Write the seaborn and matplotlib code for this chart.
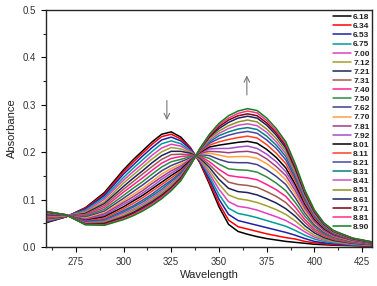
import matplotlib.pyplot as plt
import seaborn as sns
import pandas as pd
from matplotlib.ticker import MultipleLocator, FormatStrFormatter

# pH values of each spectrum
ph_labels = ['6.18', '6.34', '6.53', '6.75', '7.00', '7.12', '7.21', '7.31', '7.40', '7.50', '7.62', '7.70',
             '7.81', '7.92', '8.01', '8.11', '8.21', '8.31', '8.41', '8.51', '8.61', '8.71', '8.81', '8.90']

wavelength = [260, 270, 280, 290, 300, 305, 310, 315, 320, 325, 330, 335, 340, 345, 350,
              355, 360, 365, 370, 375, 380, 385, 390, 395, 400, 405, 410, 420, 430]

# one row per wavelength, one column per pH
absorbance = [
    [.052, .053, .054, .055, .057, .058, .060, .061, .062, .064, .065, .066, .067, .068, .069, .070, .071, .072, .072, .073, .074, .074, .075, .075],
    [.064, .064, .064, .065, .065, .065, .065, .066, .066, .066, .066, .066, .067, .067, .067, .067, .067, .067, .068, .068, .068, .068, .068, .068],
    [.083, .082, .080, .078, .075, .073, .071, .069, .067, .065, .063, .061, .059, .058, .056, .055, .054, .052, .051, .050, .049, .048, .048, .047],
    [.115, .112, .109, .105, .101, .096, .092, .088, .084, .080, .076, .072, .070, .067, .064, .061, .058, .056, .054, .052, .050, .049, .047, .046],
    [.163, .159, .154, .147, .141, .135, .128, .122, .116, .109, .103, .098, .094, .090, .085, .081, .077, .074, .071, .067, .064, .062, .060, .058],
    [.184, .179, .173, .166, .159, .152, .145, .138, .131, .124, .117, .111, .106, .101, .097, .092, .087, .084, .080, .077, .073, .071, .068, .066],
    [.203, .198, .192, .184, .176, .169, .161, .154, .146, .138, .131, .124, .119, .114, .109, .104, .099, .095, .091, .087, .084, .081, .079, .076],
    [.222, .217, .210, .202, .194, .186, .178, .170, .162, .154, .146, .139, .134, .128, .123, .118, .112, .108, .104, .100, .096, .093, .091, .088],
    [.238, .233, .226, .218, .209, .201, .193, .185, .177, .169, .161, .154, .148, .143, .137, .132, .127, .122, .118, .114, .110, .107, .105, .102],
    [.243, .238, .232, .224, .217, .210, .202, .195, .187, .180, .172, .166, .161, .156, .151, .146, .141, .138, .134, .130, .126, .124, .122, .119],
    [.232, .228, .224, .218, .213, .207, .202, .196, .191, .185, .180, .175, .171, .168, .164, .160, .157, .154, .151, .148, .146, .144, .142, .140],
    [.210, .209, .207, .204, .202, .200, .198, .195, .193, .191, .188, .186, .185, .183, .182, .180, .179, .178, .177, .175, .174, .174, .173, .172],
    [.178, .179, .181, .183, .184, .186, .188, .190, .192, .193, .195, .197, .198, .199, .200, .201, .203, .204, .204, .205, .206, .207, .207, .208],
    [.133, .137, .143, .149, .155, .161, .168, .174, .180, .187, .193, .198, .202, .207, .211, .215, .219, .222, .225, .229, .232, .234, .236, .238],
    [.085, .092, .101, .111, .122, .133, .143, .154, .164, .175, .185, .194, .201, .208, .215, .222, .229, .235, .240, .245, .250, .254, .258, .261],
    [.048, .057, .069, .082, .096, .110, .124, .137, .151, .165, .179, .190, .199, .208, .218, .227, .236, .243, .250, .256, .263, .268, .272, .277],
    [.033, .043, .056, .071, .086, .102, .117, .132, .148, .163, .178, .191, .201, .211, .221, .231, .241, .249, .257, .264, .272, .277, .282, .287],
    [.027, .038, .051, .067, .083, .099, .115, .130, .146, .162, .178, .191, .202, .213, .223, .234, .244, .252, .260, .268, .276, .281, .287, .292],
    [.022, .033, .046, .062, .078, .094, .110, .126, .142, .158, .174, .187, .198, .208, .219, .230, .240, .248, .256, .264, .272, .277, .283, .288],
    [.018, .028, .041, .056, .071, .087, .102, .117, .132, .148, .163, .176, .186, .196, .206, .216, .226, .234, .242, .249, .257, .262, .267, .272],
    [.015, .024, .036, .050, .064, .079, .093, .107, .121, .135, .149, .161, .170, .180, .189, .198, .208, .215, .222, .229, .236, .241, .245, .250],
    [.012, .020, .031, .044, .056, .069, .081, .094, .107, .119, .132, .142, .151, .159, .167, .176, .184, .191, .197, .203, .209, .214, .218, .222],
    [.010, .017, .025, .035, .045, .055, .065, .074, .084, .094, .104, .112, .119, .126, .132, .139, .145, .150, .155, .160, .165, .168, .172, .175],
    [.008, .012, .018, .025, .032, .038, .045, .052, .058, .065, .072, .077, .082, .086, .091, .095, .100, .103, .107, .110, .113, .116, .118, .120],
    [.006, .009, .012, .017, .021, .025, .030, .034, .038, .043, .047, .051, .054, .056, .059, .062, .065, .067, .069, .072, .074, .075, .077, .078],
    [.005, .007, .009, .012, .015, .017, .020, .023, .026, .028, .031, .034, .035, .037, .039, .041, .043, .044, .046, .047, .048, .049, .050, .051],
    [.004, .005, .007, .009, .011, .012, .014, .016, .018, .020, .022, .023, .024, .026, .027, .028, .029, .030, .031, .032, .033, .034, .034, .035],
    [.003, .004, .004, .005, .006, .007, .008, .009, .010, .011, .012, .013, .014, .014, .015, .015, .016, .017, .017, .018, .018, .018, .019, .019],
    [.002, .002, .003, .003, .004, .004, .005, .006, .006, .007, .007, .008, .008, .008, .009, .009, .009, .010, .010, .010, .010, .011, .011, .011],
]

line_colors = ['#000000', '#ff0000', '#1f1fa8', '#009a9a', '#e040c0', '#a0a030', '#20205a', '#a05a50',
               '#ff2090', '#2e8b3e', '#40408a', '#ffa040', '#a03c80', '#a050c8', '#000000', '#ff4020',
               '#4848a8', '#008080', '#d050c0', '#909020', '#202060', '#800010', '#ff3080', '#108020']

sns.set_style('ticks')
plt.rcParams['font.family'] = ['Liberation Sans', 'DejaVu Sans']

df = pd.DataFrame(absorbance, index=wavelength, columns=ph_labels)
df.index.name = 'Wavelength'
long_df = df.reset_index().melt(id_vars='Wavelength', var_name='pH', value_name='Absorbance')

fig = plt.figure(figsize=(3.77, 2.86), dpi=100)
ax = fig.add_axes([0.122, 0.136, 0.865, 0.829])
sns.lineplot(data=long_df, x='Wavelength', y='Absorbance', hue='pH', hue_order=ph_labels,
             palette=line_colors, linewidth=1.1, ax=ax)

ax.set_xlim(259.4, 430.2)
ax.set_ylim(0, 0.5)
ax.xaxis.set_major_locator(MultipleLocator(25))
ax.xaxis.set_minor_locator(MultipleLocator(12.5))
ax.yaxis.set_major_locator(MultipleLocator(0.1))
ax.yaxis.set_minor_locator(MultipleLocator(0.05))
ax.yaxis.set_major_formatter(FormatStrFormatter('%.1f'))
ax.tick_params(which='major', length=3.5, width=0.8, labelsize=7, colors='black', labelcolor='#333333')
ax.tick_params(which='minor', length=2, width=0.8)
for s in ax.spines.values():
    s.set_linewidth(1.0)
ax.set_xlabel('Wavelength', fontsize=8, color='#222222', labelpad=2)
ax.set_ylabel('Absorbance', fontsize=8, color='#222222', labelpad=4)

# arrows marking the direction of change
ax.annotate('', xy=(322.7, 0.262), xytext=(322.7, 0.315),
            arrowprops=dict(arrowstyle='->', color='#777777', lw=0.8))
ax.annotate('', xy=(364.6, 0.368), xytext=(364.6, 0.315),
            arrowprops=dict(arrowstyle='->', color='#777777', lw=0.8))

leg = ax.legend(loc='upper right', bbox_to_anchor=(1.0, 0.997), frameon=False,
                fontsize=6, handlelength=2.2, handletextpad=0.2, labelspacing=0.155,
                borderaxespad=0.1, borderpad=0.2)
for t in leg.get_texts():
    t.set_fontweight('bold')
    t.set_color('#222222')

fig.savefig('out.png', dpi=100)
